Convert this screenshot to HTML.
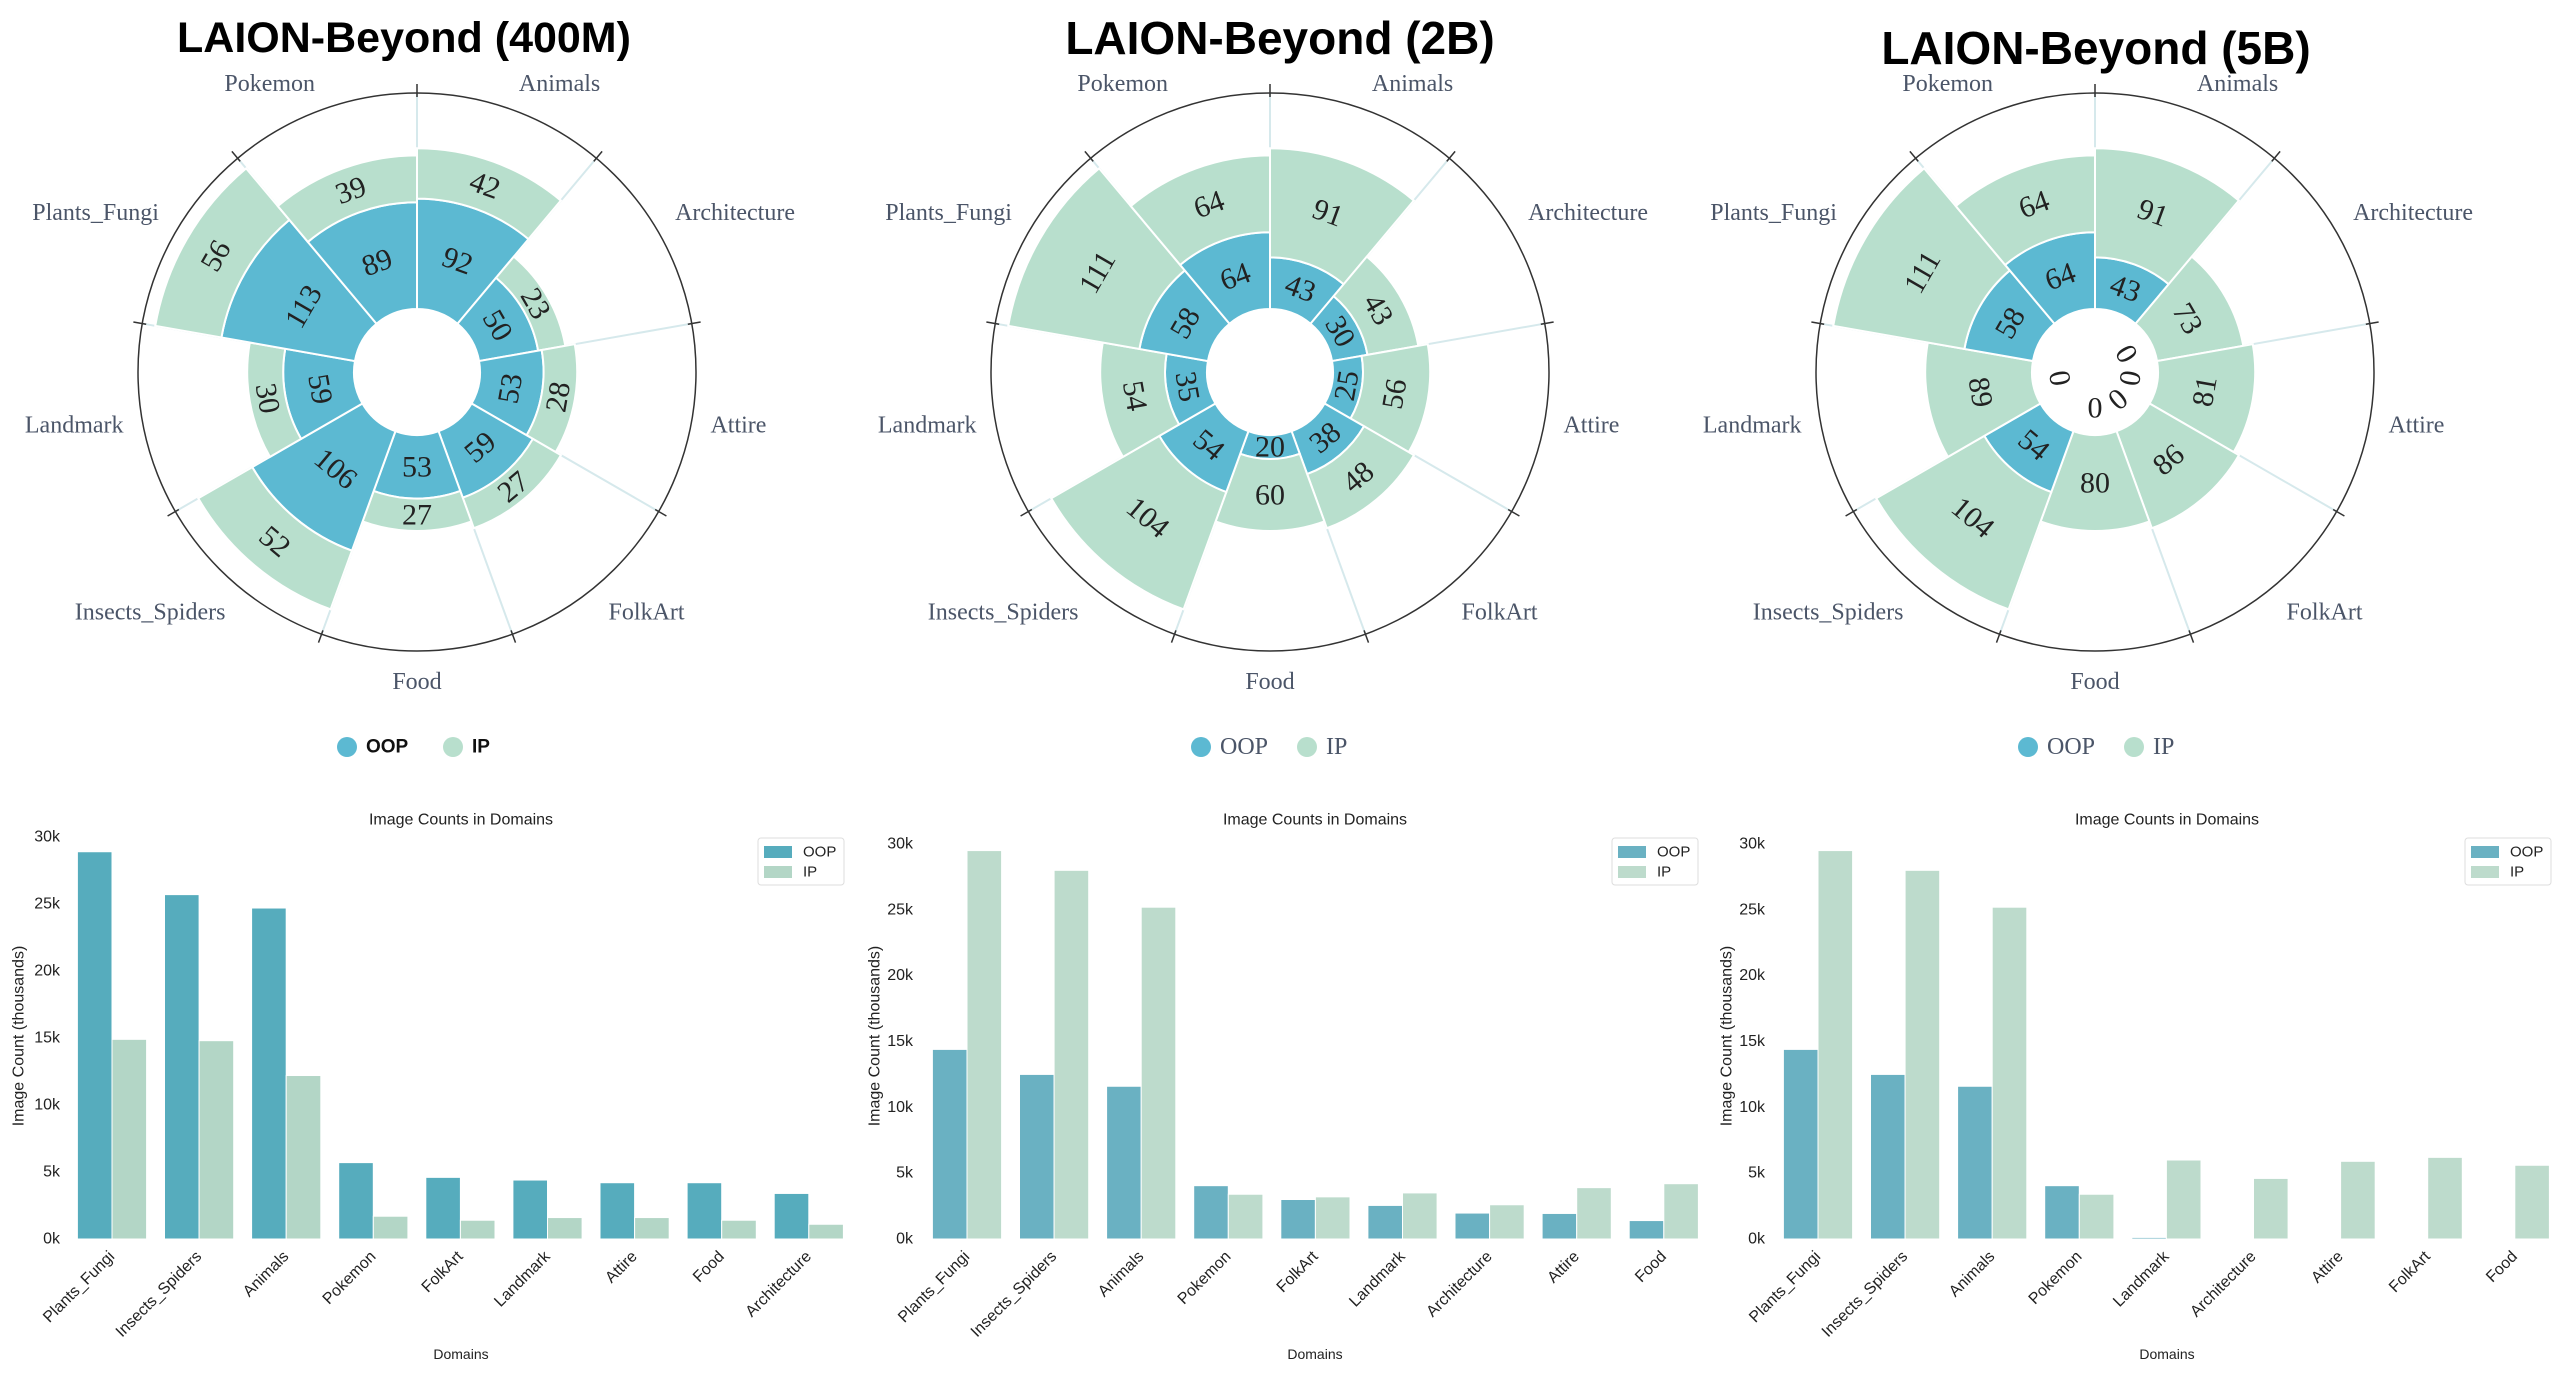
<!DOCTYPE html>
<html><head><meta charset="utf-8">
<style>
html,body{margin:0;padding:0;background:#fff;}
svg{display:block;}
</style></head>
<body>
<svg id="root" width="2560" height="1379" viewBox="0 0 2560 1379" xmlns="http://www.w3.org/2000/svg"></svg>
<script>
// ---------- Polar chart data ----------
const polarCategories = ["Animals","Architecture","Attire","FolkArt","Food","Insects_Spiders","Landmark","Plants_Fungi","Pokemon"];
const polarTitles = ["LAION-Beyond (400M)","LAION-Beyond (2B)","LAION-Beyond (5B)"];
const oop400M = [92,50,53,59,53,106,59,113,89];
const ip400M  = [42,23,28,27,27,52,30,56,39];
const oop2B   = [43,30,25,38,20,54,35,58,64];
const ip2B    = [91,43,56,48,60,104,54,111,64];
const oop5B   = [43,0,0,0,0,54,0,58,64];
const ip5B    = [91,73,81,86,80,104,89,111,64];

// ---------- Bar chart data (thousands) ----------
const barCats400M = ["Plants_Fungi","Insects_Spiders","Animals","Pokemon","FolkArt","Landmark","Attire","Food","Architecture"];
const barOop400M = [28.9,25.7,24.7,5.7,4.6,4.4,4.2,4.2,3.4];
const barIp400M  = [14.9,14.8,12.2,1.7,1.4,1.6,1.6,1.4,1.1];
const barCats2B = ["Plants_Fungi","Insects_Spiders","Animals","Pokemon","FolkArt","Landmark","Architecture","Attire","Food"];
const barOop2B = [14.4,12.5,11.6,4.05,3.0,2.55,1.97,1.94,1.4];
const barIp2B  = [29.5,28.0,25.2,3.4,3.2,3.5,2.6,3.9,4.2];
const barCats5B = ["Plants_Fungi","Insects_Spiders","Animals","Pokemon","Landmark","Architecture","Attire","FolkArt","Food"];
const barOop5B = [14.4,12.5,11.6,4.05,0.12,0,0,0,0];
const barIp5B  = [29.5,28.0,25.2,3.4,6.0,4.6,5.9,6.2,5.6];
const yTicks = [0,5,10,15,20,25,30];
const yTickLabels = ["0k","5k","10k","15k","20k","25k","30k"];

const NS = "http://www.w3.org/2000/svg";
const root = document.getElementById("root");
function mk(tag, parent, attrs){
  const e = document.createElementNS(NS, tag);
  for (const k in attrs) e.setAttribute(k, attrs[k]);
  parent.appendChild(e);
  return e;
}
const SERIF = '"Liberation Serif", "DejaVu Serif", serif';
const SANS = '"Liberation Sans", "DejaVu Sans", sans-serif';

function drawPolar(idx, cx, cy, titleX, titleY, titleSize, oop, ip, boldLegend, legendX){
  const g = mk("g", root, {});
  
  
  const hole = 63, unit = 1.2, outer = 279;
  const rScale = v => hole + v * unit;
  const n = polarCategories.length, step = 360 / n;
  const pt = (r, a) => { const t = a * Math.PI / 180; return [cx + r * Math.sin(t), cy - r * Math.cos(t)]; };
  const sector = (r0, r1, a0, a1) => {
    const p1 = pt(r1, a0), p2 = pt(r1, a1), p3 = pt(r0, a1), p4 = pt(r0, a0);
    return `M${p1[0]},${p1[1]} A${r1},${r1} 0 0 1 ${p2[0]},${p2[1]} L${p3[0]},${p3[1]} A${r0},${r0} 0 0 0 ${p4[0]},${p4[1]} Z`;
  };
  const t = mk("text", g, {x: titleX, y: titleY, "text-anchor": "middle", "dominant-baseline": "central", "font-family": SANS, "font-size": titleSize, "font-weight": "bold", fill: "#000"});
  t.textContent = polarTitles[idx];
  
  
  for (let i = 0; i < n; i++) {
    const a = i * step, p0 = pt(hole, a), p1 = pt(outer, a);
    const l = mk("line", g, {x1: p0[0], y1: p0[1], x2: p1[0], y2: p1[1], stroke: "#d6e9ec", "stroke-width": 2});
    
    
  }
  const c = mk("circle", g, {cx: cx, cy: cy, r: outer, fill: "none", stroke: "#333", "stroke-width": 1.5});
  
  
  for (let i = 0; i < n; i++) {
    const a = i * step, p0 = pt(outer - 4, a), p1 = pt(outer + 9, a);
    const tk = mk("line", g, {x1: p0[0], y1: p0[1], x2: p1[0], y2: p1[1], stroke: "#333", "stroke-width": 1.5});
    
    
  }
  for (let i = 0; i < n; i++) {
    const a0 = i * step, a1 = (i + 1) * step, mid = (a0 + a1) / 2;
    const r0 = rScale(0), r1 = rScale(oop[i]), r2 = rScale(oop[i] + ip[i]);
    if (oop[i] > 0) {
      const p = mk("path", g, {d: sector(r0, r1, a0, a1), fill: "#5cb9d2", stroke: "#fff", "stroke-width": 2});
      
      
    }
    if (ip[i] > 0) {
      const p = mk("path", g, {d: sector(r1, r2, a0, a1), fill: "#b8dfcd", stroke: "#fff", "stroke-width": 2});
      
      
    }
    let rot = mid;
    if (mid > 90 && mid < 270) rot = mid - 180;
    if (rot > 180) rot -= 360;
    const labels = [[oop[i] > 0 ? (r0 + r1) / 2 : 36, oop[i], 'oop'], [(r1 + r2) / 2, ip[i], 'ip']];
    labels.forEach(L => {
      const [rr, v, s] = L;
      if (s === 'ip' && v === 0) return;
      const q = pt(rr, mid);
      const tx = mk("text", g, {x: q[0], y: q[1], "text-anchor": "middle", "dominant-baseline": "central", "font-family": SERIF, "font-size": 30, fill: "#222", transform: `rotate(${rot} ${q[0]} ${q[1]})`});
      tx.textContent = v;
      
      
    });
    const lp = pt(298, mid);
    const sn = Math.sin(mid * Math.PI / 180), cs = Math.cos(mid * Math.PI / 180);
    let anchor = Math.abs(sn) < 0.2 ? "middle" : (sn > 0 ? "start" : "end");
    let ly = lp[1] + (cs < -0.5 ? 12 : (cs > 0.5 ? -10 : 2));
    if (Math.abs(sn) >= 0.2 && Math.abs(sn) < 0.5) { ly = lp[1] + (cs > 0 ? -8 : 8); }
    const ct = mk("text", g, {x: lp[0], y: ly, "text-anchor": anchor, "dominant-baseline": "central", "font-family": SERIF, "font-size": 24, fill: "#4b5568"});
    ct.textContent = polarCategories[i];
    
    
  }
  const ly = 747;
  const items = [["OOP", "#5cb9d2", 0], ["IP", "#b8dfcd", 106]];
  items.forEach(it => {
    const lg = mk("g", g, {});
    
    
    mk("circle", lg, {cx: legendX + it[2], cy: ly, r: 10, fill: it[1]});
    const tt = mk("text", lg, {x: legendX + it[2] + 19, y: ly, "dominant-baseline": "central", "font-family": boldLegend ? SANS : SERIF, "font-weight": boldLegend ? "bold" : "normal", "font-size": boldLegend ? 19 : 24, fill: boldLegend ? "#111" : "#4b5568"});
    tt.textContent = it[0];
  });
}

function drawBars(idx, cats, oop, ip, firstCenter, axisTopY, tickRight, ytitleX, titleX, legendLeft, oopColor, ipColor){
  const g = mk("g", root, {});
  
  
  const y0 = 1239, yMax = 30;
  const yScale = v => y0 - v / yMax * (y0 - axisTopY);
  const pitch = 87.1, bw = 34.6;
  const xScale = i => firstCenter + i * pitch;
  const tt = mk("text", g, {x: titleX, y: 820, "text-anchor": "middle", "dominant-baseline": "central", "font-family": SANS, "font-size": 16, fill: "#222"});
  tt.textContent = "Image Counts in Domains";
  
  
  yTicks.forEach((v, k) => {
    const t = mk("text", g, {x: tickRight, y: yScale(v), "text-anchor": "end", "dominant-baseline": "central", "font-family": SANS, "font-size": 16, fill: "#222"});
    t.textContent = yTickLabels[k];
    
    
  });
  const yt = mk("text", g, {x: ytitleX, y: 1036, "text-anchor": "middle", "dominant-baseline": "central", "font-family": SANS, "font-size": 16, fill: "#222", transform: `rotate(-90 ${ytitleX} 1036)`});
  yt.textContent = "Image Count (thousands)";
  
  
  cats.forEach((c, i) => {
    const cx = xScale(i);
    if (oop[i] > 0) {
      const r = mk("rect", g, {x: cx - bw, y: yScale(oop[i]), width: bw, height: y0 - yScale(oop[i]), fill: oopColor, stroke: "#fff", "stroke-width": 1});
      
      
    }
    if (ip[i] > 0) {
      const r = mk("rect", g, {x: cx, y: yScale(ip[i]), width: bw, height: y0 - yScale(ip[i]), fill: ipColor, stroke: "#fff", "stroke-width": 1});
      
      
    }
    const lx = cx - 4, ly = 1250;
    const t = mk("text", g, {x: lx, y: ly, "text-anchor": "end", "dominant-baseline": "hanging", "font-family": SANS, "font-size": 16, fill: "#222", transform: `rotate(-45 ${lx} ${ly})`});
    t.textContent = c;
    
    
  });
  const xt = mk("text", g, {x: titleX, y: 1354, "text-anchor": "middle", "dominant-baseline": "central", "font-family": SANS, "font-size": 14, fill: "#222"});
  xt.textContent = "Domains";
  
  
  const lg = mk("g", g, {});
  
  
  mk("rect", lg, {x: legendLeft, y: 838, width: 86, height: 47, rx: 3, fill: "#fff", stroke: "#ddd", "stroke-width": 1});
  [["OOP", oopColor, 852], ["IP", ipColor, 872]].forEach(it => {
    mk("rect", lg, {x: legendLeft + 6, y: it[2] - 6, width: 28, height: 12, fill: it[1]});
    const t = mk("text", lg, {x: legendLeft + 45, y: it[2], "dominant-baseline": "central", "font-family": SANS, "font-size": 15, fill: "#222"});
    t.textContent = it[0];
  });
}

drawPolar(0, 417, 372, 404, 38, 43, oop400M, ip400M, true, 347);
drawPolar(1, 1270, 372, 1280, 38, 46, oop2B, ip2B, false, 1201);
drawPolar(2, 2095, 372, 2096, 48, 46, oop5B, ip5B, false, 2028);

drawBars(0, barCats400M, barOop400M, barIp400M, 112, 837, 60, 19, 461, 758, "#56acbd", "#b3d6c6");
drawBars(1, barCats2B, barOop2B, barIp2B, 967, 844, 913, 875, 1315, 1612, "#6ab1c2", "#bddbcc");
drawBars(2, barCats5B, barOop5B, barIp5B, 1818, 844, 1765, 1727, 2167, 2465, "#6ab1c2", "#bddbcc");
</script>
</body></html>
